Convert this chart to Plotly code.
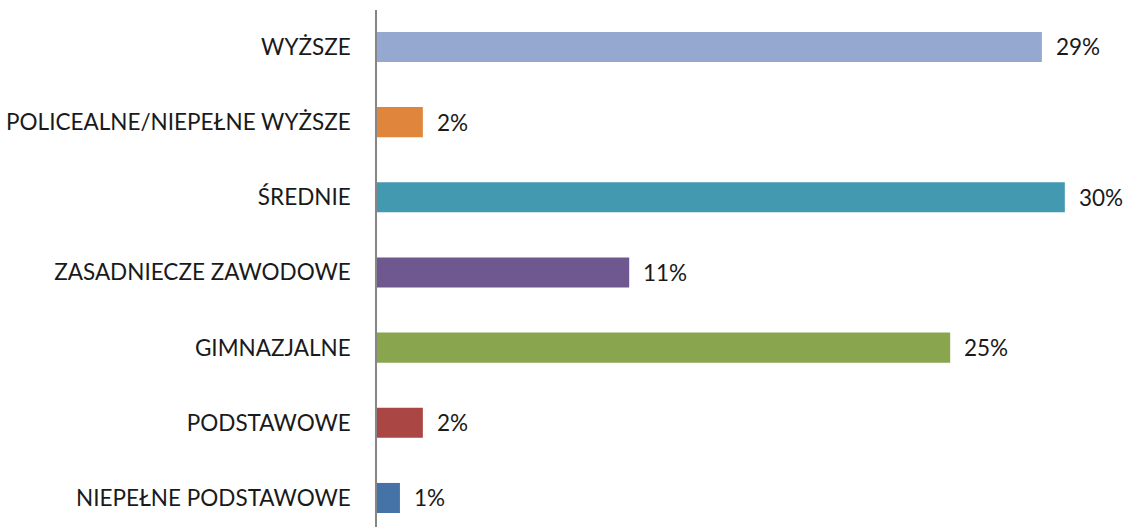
import plotly.graph_objects as go

categories = ["WYŻSZE", "POLICEALNE/NIEPEŁNE WYŻSZE", "ŚREDNIE", "ZASADNIECZE ZAWODOWE",
              "GIMNAZJALNE", "PODSTAWOWE", "NIEPEŁNE PODSTAWOWE"]
values = [29, 2, 30, 11, 25, 2, 1]
colors = ["#95A9D0", "#E0863C", "#4299B0", "#6F578F", "#89A54E", "#AA4643", "#4572A7"]

FONT = "Lato"
TXT = "#1a1a1a"
FS = 22.5

fig = go.Figure()
fig.add_trace(go.Bar(
    y=categories, x=values, orientation="h",
    marker=dict(color=colors, line=dict(width=0)),
    width=0.4, showlegend=False, hoverinfo="skip",
))
for c, v in zip(categories, values):
    fig.add_annotation(x=v, y=c, text=f"{v}%", showarrow=False, xanchor="left",
                       xshift=12, font=dict(family=FONT, size=FS, color=TXT))

fig.update_layout(
    width=1132, height=527,
    margin=dict(l=377, r=0, t=10, b=0),
    paper_bgcolor="white", plot_bgcolor="white",
    bargap=0.6,
)
fig.update_xaxes(range=[0, 32.93], showgrid=False, zeroline=False, showticklabels=False,
                 showline=False)
fig.update_yaxes(categoryorder="array", categoryarray=categories,
                 range=[6.386, -0.492], showgrid=False, zeroline=False,
                 showline=True, linecolor="#868686", linewidth=1.5,
                 ticks="", ticklabelstandoff=20,
                 tickfont=dict(family=FONT, size=FS, color=TXT))

fig.write_html("out.html", config={"displayModeBar": False},
               post_script="document.body.style.margin='0';document.body.style.overflow='hidden';")
